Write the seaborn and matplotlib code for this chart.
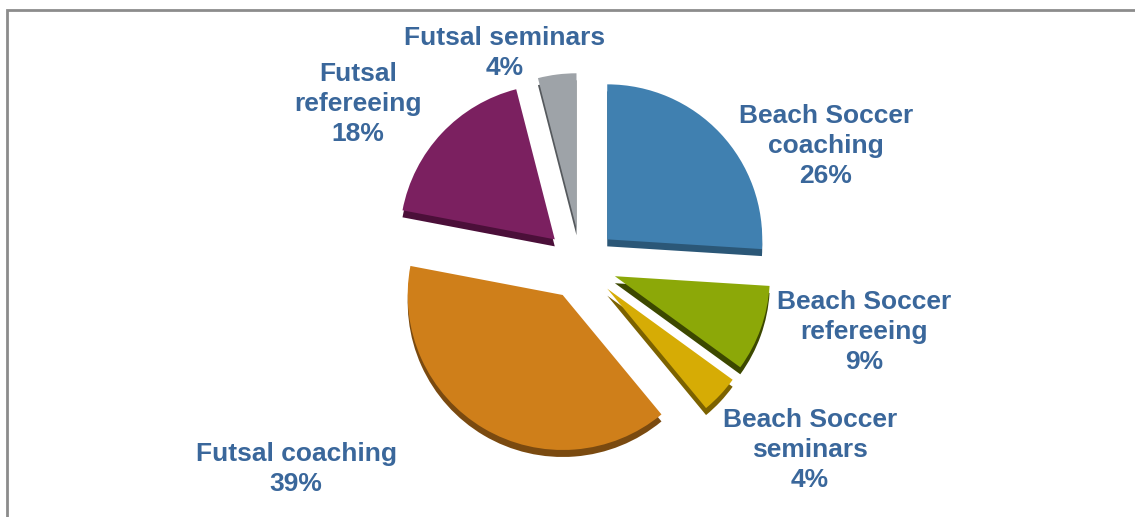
import numpy as np
import matplotlib
matplotlib.use("Agg")
import matplotlib.pyplot as plt
import seaborn as sns

# slice data, clockwise from 12 o'clock
categories = ["Beach Soccer\ncoaching", "Beach Soccer\nrefereeing", "Beach Soccer\nseminars",
              "Futsal coaching", "Futsal\nrefereeing", "Futsal seminars"]
shares = [26, 9, 4, 39, 18, 4]
top_colors = ["#4080B0", "#8CA808", "#D6AC05", "#CF7F1A", "#7B2060", "#9EA3A8"]
side_colors = ["#2B5777", "#3C4800", "#7C6200", "#7A4A10", "#4B0F39", "#55595D"]

# label anchor points (pixels, origin bottom-left)
label_x = [826, 864, 810, 296, 358, 505]
label_y = [371, 185, 67, 48, 413, 464]

sns.set_style("white")
plt.rcParams['font.family'] = ['Liberation Sans', 'DejaVu Sans']

fig = plt.figure(figsize=(11.35, 5.17), dpi=100)
ax = fig.add_axes([0, 0, 1, 1])

center = (581, 253)
radius = 155
depth = 7
# matplotlib's explode is in data units here (pixels)
explode = [36] * len(shares)

# side of the slices: darker copy pushed down a little
ax.pie(shares, explode=explode, colors=side_colors, startangle=90, counterclock=False,
       center=(center[0], center[1] - depth), radius=radius, frame=True,
       wedgeprops=dict(linewidth=0))
# top face
ax.pie(shares, explode=explode, colors=top_colors, startangle=90, counterclock=False,
       center=center, radius=radius, frame=True,
       wedgeprops=dict(linewidth=0))

for name, val, x, y in zip(categories, shares, label_x, label_y):
    ax.text(x, y, f"{name}\n{val}%", ha='center', va='center', multialignment='center',
            fontsize=19, fontweight='bold', color='#3A679B', linespacing=1.34)

# chart border (cropped on right/bottom)
ax.plot([7, 7, 1135], [0, 507, 507], color='#8C8C8C', linewidth=2, solid_joinstyle='miter')

ax.set_xlim(0, 1135)
ax.set_ylim(0, 517)
ax.set_aspect('auto')
ax.axis('off')

plt.savefig('out.png', dpi=100)
